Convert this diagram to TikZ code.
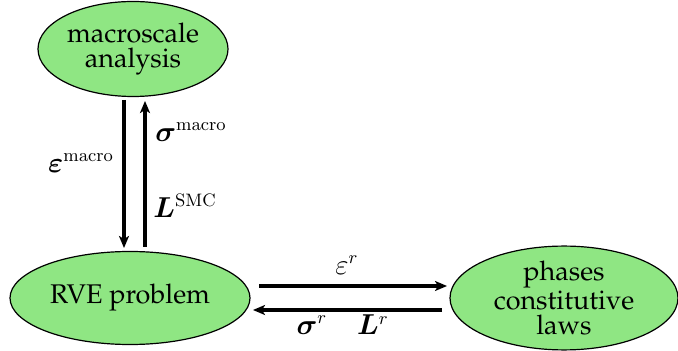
\documentclass[tikz,border=0pt]{standalone}
\usepackage[T1]{fontenc}
\usepackage{palatino}
\usepackage{bm}
\usetikzlibrary{shapes.geometric,arrows.meta}
\definecolor{nodegreen}{RGB}{143,230,131}
\tikzset{
  blob/.style={ellipse,draw=black,line width=0.6pt,fill=nodegreen,inner sep=0pt,align=center,font=\fontsize{13.5}{12.5}\selectfont},
  arr/.style={line width=1.6pt,-{Stealth[length=6pt,width=5pt,inset=1.5pt]}},
  lab/.style={font=\fontsize{13.5}{14}\selectfont,inner sep=0pt}
}
\begin{document}
\begin{tikzpicture}[x=0.5pt,y=-0.5pt]
\useasboundingbox (0,0) rectangle (678,351);
\node[blob,minimum width=95pt,minimum height=47.5pt] (macro) at (133,49) {macroscale\\analysis};
\node[blob,minimum width=120pt,minimum height=46.5pt] (rve) at (130,298) {RVE problem};
\node[blob,minimum width=114pt,minimum height=50pt] (phases) at (564,298) {phases\\constitutive\\laws};
\coordinate (d1) at (124,100); \coordinate (d2) at (124,248);
\coordinate (u1) at (145,247); \coordinate (u2) at (145,101);
\coordinate (r1) at (259,286); \coordinate (r2) at (447,286);
\coordinate (l1) at (442,310); \coordinate (l2) at (253,310);
\draw[arr] (d1) -- (d2);
\draw[arr] (u1) -- (u2);
\draw[arr] (r1) -- (r2);
\draw[arr] (l1) -- (l2);
\node[lab] (em) at (81,163) {$\bm{\varepsilon}^{\mathrm{macro}}$};
\node[lab] (sm) at (191,132) {$\bm{\sigma}^{\mathrm{macro}}$};
\node[lab] (ls) at (185,206) {$\bm{L}^{\mathrm{SMC}}$};
\node[lab] (er) at (347,265) {$\varepsilon^{r}$};
\node[lab] (sr) at (312,325) {$\bm{\sigma}^{r}$};
\node[lab] (lr) at (373,325) {$\bm{L}^{r}$};
\end{tikzpicture}
\end{document}
